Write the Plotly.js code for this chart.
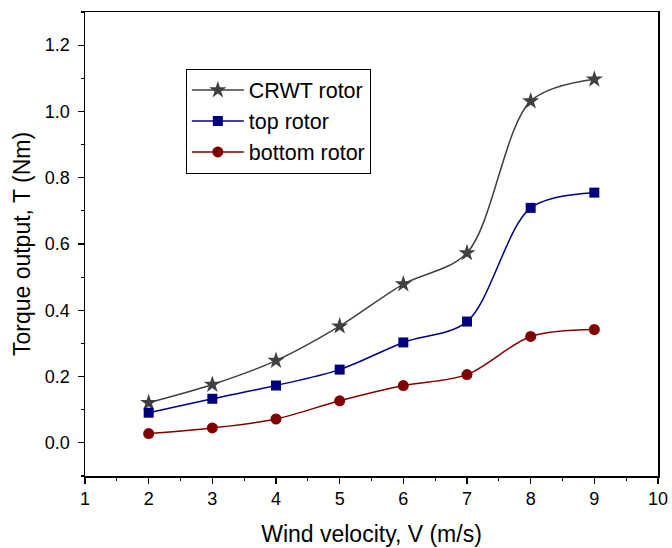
<!DOCTYPE html>
<html>
<head>
<meta charset="utf-8">
<script src="https://cdn.plot.ly/plotly-3.0.1.min.js"></script>
<style>html,body{margin:0;padding:0;background:#fff;}#chart{width:672px;height:548px;}</style>
</head>
<body>
<div id="chart"></div>
<script>
var windVelocity = [2, 3, 4, 5, 6, 7, 8, 9];
var crwtTorque = [0.121, 0.176, 0.248, 0.352, 0.479, 0.573, 1.031, 1.097];
var topTorque = [0.091, 0.133, 0.173, 0.221, 0.303, 0.366, 0.709, 0.755];
var bottomTorque = [0.028, 0.045, 0.072, 0.127, 0.173, 0.206, 0.321, 0.342];
var seriesNames = ['CRWT rotor', 'top rotor', 'bottom rotor'];

var font = 'Arial, "Liberation Sans", sans-serif';

function mk(y, name, color, symbol, size) {
  return {
    x: windVelocity, y: y, name: name, type: 'scatter', mode: 'lines+markers',
    line: {color: color, width: 1.5, shape: 'spline', smoothing: 0.9},
    marker: {color: color, symbol: symbol, size: size}
  };
}

var data = [
  mk(crwtTorque, seriesNames[0], '#404040', 'star', 13),
  mk(topTorque, seriesNames[1], '#000080', 'square', 10),
  mk(bottomTorque, seriesNames[2], '#800000', 'circle', 11)
];

var layout = {
  width: 672, height: 548,
  margin: {l: 85, r: 14, t: 12, b: 72},
  paper_bgcolor: '#fff', plot_bgcolor: '#fff',
  font: {family: font, color: '#000'},
  showlegend: true,
  legend: {
    x: 0.176, y: 0.878, xanchor: 'left', yanchor: 'top',
    bgcolor: '#fff', bordercolor: '#000', borderwidth: 1,
    font: {family: font, size: 21.5, color: '#000'},
    tracegroupgap: 0, itemwidth: 52
  },
  xaxis: {
    range: [1, 10], dtick: 1, tick0: 1,
    showgrid: false, zeroline: false,
    showline: true, linecolor: '#000', linewidth: 1.5, mirror: true,
    ticks: 'outside', ticklen: 6, tickwidth: 1.2, tickcolor: '#000',
    minor: {dtick: 0.5, ticks: 'outside', ticklen: 3, tickwidth: 1.2, tickcolor: '#000', showgrid: false},
    tickfont: {family: font, size: 18, color: '#000'},
    title: {text: 'Wind velocity, V (m/s)', font: {family: font, size: 23, color: '#000'}, standoff: 18}
  },
  yaxis: {
    range: [-0.1, 1.3], dtick: 0.2, tick0: 0, tickformat: '.1f',
    showgrid: false, zeroline: false,
    showline: true, linecolor: '#000', linewidth: 1.5, mirror: true,
    ticks: 'outside', ticklen: 6, tickwidth: 1.2, tickcolor: '#000',
    ticklabelstandoff: 4,
    minor: {dtick: 0.1, ticks: 'outside', ticklen: 3, tickwidth: 1.2, tickcolor: '#000', showgrid: false},
    tickfont: {family: font, size: 18, color: '#000'},
    title: {text: 'Torque output, T (Nm)', font: {family: font, size: 23, color: '#000'}, standoff: 8}
  }
};

Plotly.newPlot('chart', data, layout, {displayModeBar: false, staticPlot: true});
</script>
</body>
</html>
